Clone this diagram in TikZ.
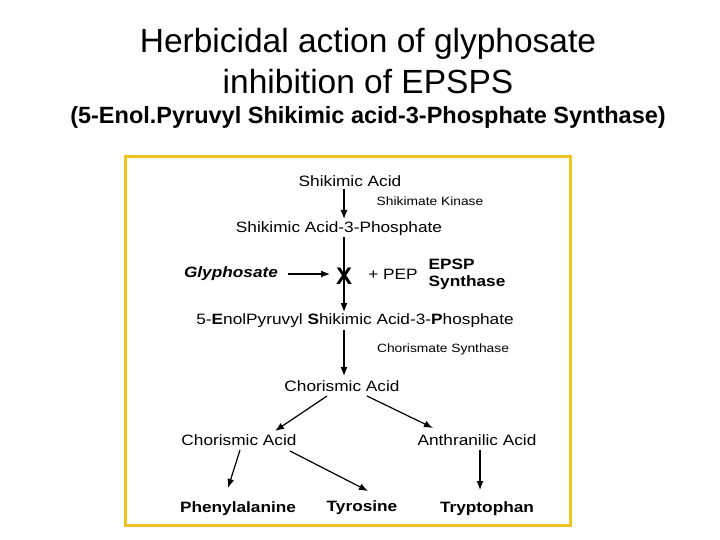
\documentclass[tikz,border=0pt]{standalone}
\usepackage{fontspec}
\usetikzlibrary{arrows.meta}
\setmainfont{Liberation Sans}
\begin{document}
\begin{tikzpicture}[x=1pt,y=-1pt,
  t/.style={inner sep=0pt,xscale=1.15,transform shape,font=\fontsize{15}{17}\selectfont},
  s/.style={inner sep=0pt,xscale=1.15,transform shape,font=\fontsize{12}{14}\selectfont},
  b/.style={inner sep=0pt,xscale=1.15,transform shape,font=\fontsize{15}{17}\selectfont\bfseries},
  ttl/.style={inner sep=0pt,font=\fontsize{33.5}{36}\selectfont},
  arr/.style={-{Latex[length=9pt,width=7pt]},line width=1.2pt}]
\useasboundingbox (0,0) rectangle (720,540);
\node[ttl] (t1) at (368,44) {Herbicidal action of glyphosate};
\node[ttl] (t2) at (368,82) {inhibition of EPSPS};
\node[inner sep=0pt,font=\fontsize{23.5}{26}\selectfont\bfseries] (t3) at (368,117) {(5-Enol.Pyruvyl Shikimic acid-3-Phosphate Synthase)};
\draw[draw={rgb,255:red,240;green,196;blue,32},line width=3pt] (125,157) rectangle (570,525);
\node[t] (sa) at (350,181) {Shikimic Acid};
\node[s] (sk) at (430,201) {Shikimate Kinase};
\node[t] (s3p) at (339,229) {Shikimic Acid-3-Phosphate};
\node[b,font=\fontsize{15}{17}\selectfont\bfseries\itshape] (gly) at (231,274) {Glyphosate};
\node[inner sep=0pt,font=\fontsize{24}{26}\selectfont\bfseries] (x) at (344,276) {X};
\node[t] (pep) at (393,274) {+ PEP};
\node[b,align=left] (epsp) at (467,274) {EPSP\\Synthase};
\node[t] (esp) at (355,321) {5-\textbf{E}nolPyruvyl \textbf{S}hikimic Acid-3-\textbf{P}hosphate};
\node[s] (cs) at (443,349) {Chorismate Synthase};
\node[t] (ca) at (342,386) {Chorismic Acid};
\node[t] (ca2) at (239,440) {Chorismic Acid};
\node[t] (aa) at (477,440) {Anthranilic Acid};
\node[b] (phe) at (238,509) {Phenylalanine};
\node[b] (tyr) at (362,508) {Tyrosine};
\node[b] (trp) at (487,509) {Tryptophan};
\draw[arr] (344,189) -- (344,219);
\draw[arr] (344,237) -- (344,312);
\draw[arr] (288,274) -- (330,274);
\draw[arr] (344,330) -- (344,376);
\draw[arr] (327,396) -- (275,431);
\draw[arr] (367,396) -- (433,428);
\draw[arr] (240,450) -- (228,488);
\draw[arr] (290,451) -- (368,491);
\draw[arr] (480,450) -- (480,490);
\end{tikzpicture}
\end{document}
